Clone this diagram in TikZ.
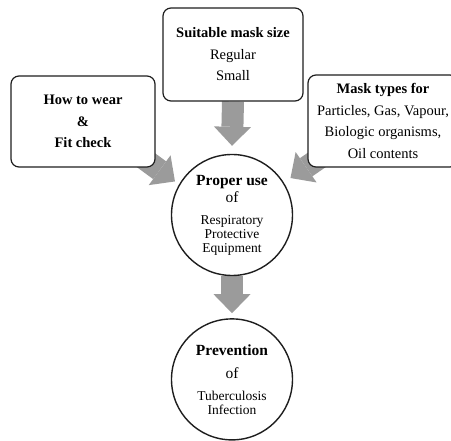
\documentclass[tikz,border=0pt]{standalone}
\usepackage{fontspec}
\setmainfont{Liberation Serif}
\usepackage{tikz}
\usetikzlibrary{positioning,arrows.meta,backgrounds}
\definecolor{arrowgray}{HTML}{9B9B9B}
\definecolor{edgeblack}{HTML}{1E1E1E}

\begin{document}
\begin{tikzpicture}[
  x=1pt, y=-1pt,
  box/.style={
    draw=edgeblack, fill=white, line width=1.2pt, rounded corners=8pt,
    font=\fontsize{14.5}{21.5}\selectfont, align=center, inner sep=0pt
  },
  circ/.style={
    circle, draw=edgeblack, fill=white, line width=1.4pt,
    minimum size=121pt, inner sep=0pt,
    font=\fontsize{13.5}{14}\selectfont, align=center
  },
  blockarr/.style={
    draw=arrowgray, line width=22pt,
    -{Triangle[length=19pt, width=37pt, line width=0pt]}
  }
]
  \useasboundingbox (0,0) rectangle (451,441);
  \node[circ] (properuse) at (232,215) {%
    {\fontsize{15.5}{14}\selectfont\textbf{Proper use}}\\[2pt]
    {\fontsize{15.5}{14}\selectfont of}\\[8pt]
    Respiratory\\ Protective\\ Equipment};
  \node[circ, below=42pt of properuse] (prevention) {%
    {\fontsize{15.5}{14}\selectfont\textbf{Prevention}}\\[9pt]
    {\fontsize{15.5}{14}\selectfont of}\\[8pt]
    Tuberculosis\\ Infection};
  \node[box, minimum width=140pt, minimum height=93pt] (sizes) at (233,54.5) {%
    \textbf{Suitable mask size}\\ Regular\\ Small};
  \node[box, minimum width=144pt, minimum height=91pt] (howto) at (83,121.5) {%
    \textbf{How to wear}\\ \textbf{\&}\\ \textbf{Fit check}};
  \node[box, minimum width=150pt, minimum height=92pt] (types) at (383,121) {%
    \textbf{Mask types for}\\ Particles, Gas, Vapour,\\
    Biologic organisms,\\ Oil contents};
  \begin{scope}[on background layer]
    \draw[blockarr] (sizes.south) -- ([yshift=8pt]properuse.north);
    \draw[blockarr] (properuse.south) -- ([yshift=5pt]prevention.north);
    \draw[blockarr, shorten >=5pt] ([shift={(-20pt,15pt)}]howto.south east) -- (properuse.150);
    \draw[blockarr, shorten >=8pt] ([shift={(20pt,15pt)}]types.south west) -- (properuse.32);
  \end{scope}
\end{tikzpicture}
\end{document}
